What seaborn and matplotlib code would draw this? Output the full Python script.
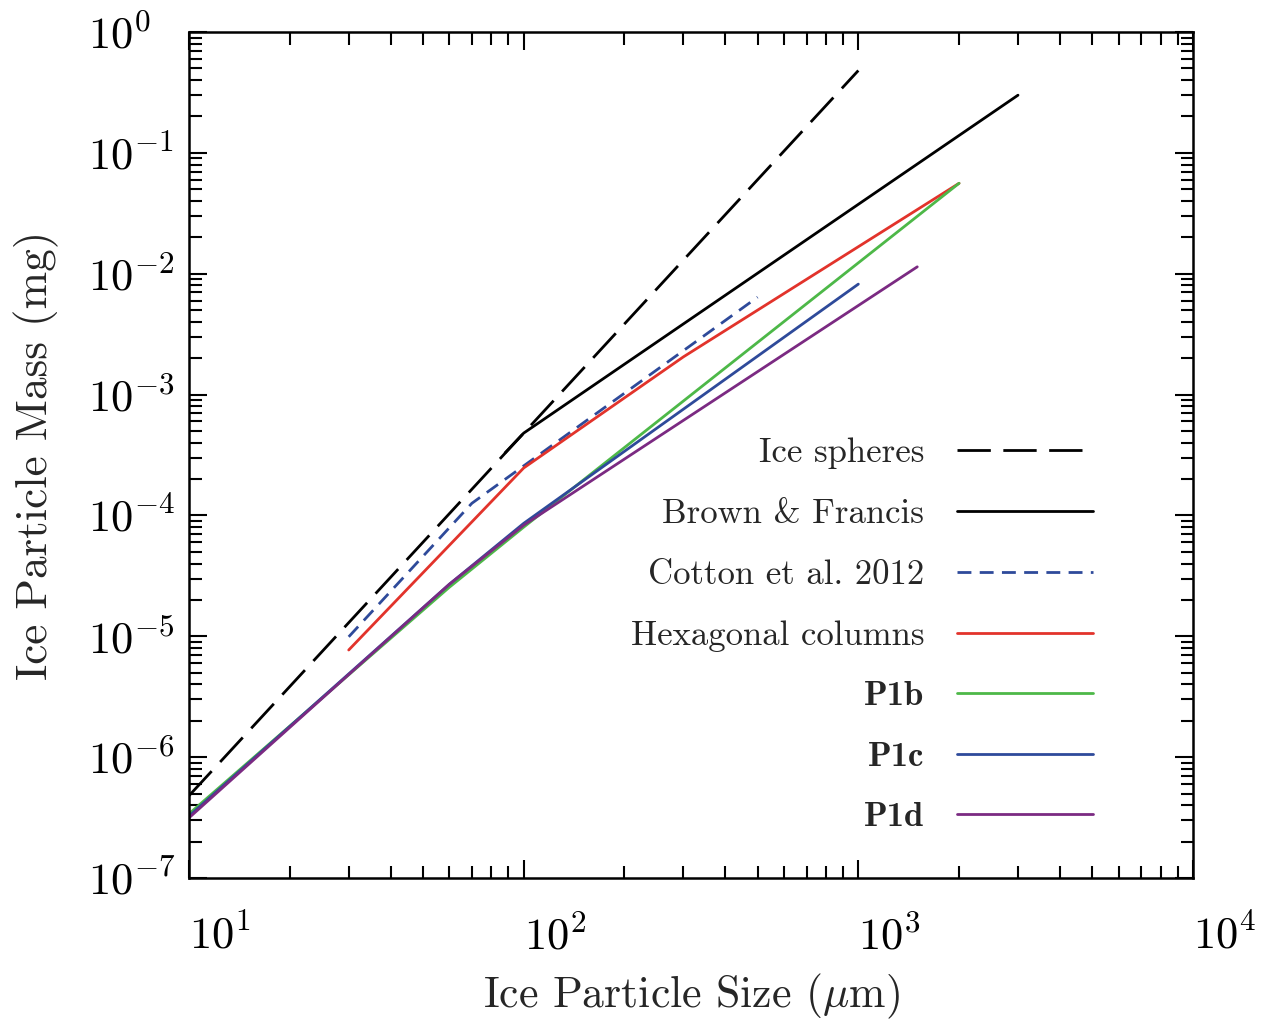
import math

import matplotlib
matplotlib.use("Agg")
import matplotlib.pyplot as plt
import matplotlib.ticker as mticker
import seaborn as sns


# particle size (um) and mass (mg)
sphere_size = [10, 1000]
sphere_mass = [4.8e-7, 0.48]

bf_size = [88, 100, 3000]
bf_mass = [3.3e-4, 4.8e-4, 0.30]

cotton_size = [30, 70, 500]
cotton_mass = [9.9e-6, 1.26e-4, 6.4e-3]

hex_size = [30, 100, 300, 2000]
hex_mass = [7.7e-6, 2.47e-4, 2.05e-3, 0.056]

p1b_size = [10, 60, 100, 2000]
p1b_mass = [3.4e-7, 2.55e-5, 8.0e-5, 0.056]

p1c_size = [10, 60, 100, 1000]
p1c_mass = [3.25e-7, 2.7e-5, 8.6e-5, 8.2e-3]

p1d_size = [10, 60, 100, 1500]
p1d_mass = [3.15e-7, 2.7e-5, 8.3e-5, 0.0114]

labels = ["Ice spheres", "Brown & Francis", "Cotton et al. 2012",
          "Hexagonal columns", "P1b", "P1c", "P1d"]
colors = ["black", "black", "#2E4A9A", "#E2332B", "#4DB848", "#2E4A9A", "#7B2A82"]
styles = [(0, (12, 4.5)), "-", (0, (5, 3)), "-", "-", "-", "-"]


def log_label(v, pos):
    return r"$10^{%d}$" % round(math.log10(v))


def main():
    sns.set_style("ticks")
    plt.rcParams["font.family"] = ["cmr10", "DejaVu Serif"]
    plt.rcParams["mathtext.fontset"] = "cm"
    plt.rcParams["axes.formatter.use_mathtext"] = True

    fig = plt.figure(figsize=(12.74, 10.22), dpi=100)
    ax = fig.add_axes([0.1484, 0.1409, 0.788, 0.8278])

    series = [
        (sphere_size, sphere_mass),
        (bf_size, bf_mass),
        (cotton_size, cotton_mass),
        (hex_size, hex_mass),
        (p1b_size, p1b_mass),
        (p1c_size, p1c_mass),
        (p1d_size, p1d_mass),
    ]
    for (xs, ys), lab, col, ls in zip(series, labels, colors, styles):
        sns.lineplot(x=xs, y=ys, ax=ax, color=col, linestyle=ls, lw=2.0,
                     label=lab, estimator=None, sort=False)

    ax.set_xscale("log")
    ax.set_yscale("log")
    ax.set_xlim(10, 1e4)
    ax.set_ylim(1e-7, 1)

    ax.xaxis.set_major_locator(mticker.FixedLocator([1e1, 1e2, 1e3, 1e4]))
    ax.yaxis.set_major_locator(mticker.FixedLocator([10.0 ** k for k in range(-7, 1)]))
    ax.xaxis.set_minor_locator(mticker.LogLocator(base=10, subs=range(2, 10), numticks=20))
    ax.yaxis.set_minor_locator(mticker.LogLocator(base=10, subs=range(2, 10), numticks=20))
    ax.xaxis.set_major_formatter(mticker.FuncFormatter(log_label))
    ax.yaxis.set_major_formatter(mticker.FuncFormatter(log_label))
    ax.xaxis.set_minor_formatter(mticker.NullFormatter())
    ax.yaxis.set_minor_formatter(mticker.NullFormatter())

    ax.tick_params(which="both", direction="in", top=True, right=True,
                   width=1.5, colors="black")
    ax.tick_params(which="major", length=13, labelsize=32)
    ax.tick_params(which="minor", length=9)
    ax.tick_params(axis="x", which="major", pad=27)
    ax.tick_params(axis="y", which="major", pad=73)
    for t in ax.get_xticklabels():
        t.set_horizontalalignment("left")
    for t in ax.get_yticklabels():
        t.set_horizontalalignment("left")

    for sp in ax.spines.values():
        sp.set_linewidth(1.8)
        sp.set_color("black")

    ax.set_xlabel(r"Ice Particle Size ($\mu$m)", fontsize=31.5, labelpad=10)
    ax.set_ylabel("Ice Particle Mass (mg)", fontsize=32.5, labelpad=21)

    leg = ax.legend(loc="lower right", bbox_to_anchor=(0.900, 0.053),
                    frameon=False, markerfirst=False, fontsize=25,
                    handlelength=3.9, handletextpad=0.95, labelspacing=0.84,
                    borderpad=0, borderaxespad=0)
    for txt in leg.get_texts():
        if txt.get_text().startswith("P1"):
            txt.set_fontfamily("cmb10")

    fig.savefig("out.png", dpi=100)
    plt.close(fig)


if __name__ == "__main__":
    main()
